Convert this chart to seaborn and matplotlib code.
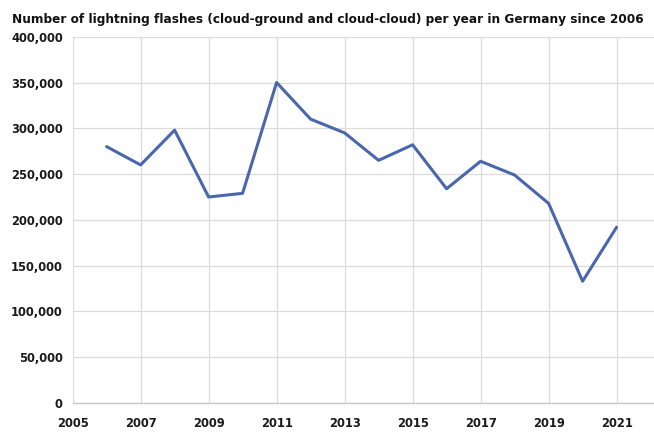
import matplotlib
matplotlib.use("Agg")
import matplotlib.pyplot as plt
import seaborn as sns
import pandas as pd
from matplotlib.ticker import FuncFormatter, MultipleLocator, FixedLocator

years = [2006, 2007, 2008, 2009, 2010, 2011, 2012, 2013, 2014, 2015,
         2016, 2017, 2018, 2019, 2020, 2021]
flashes = [280000, 260000, 298000, 225000, 229000, 350000, 310000, 295000,
           265000, 282000, 234000, 264000, 249000, 218000, 133000, 192000]
x_ticks = [2005, 2007, 2009, 2011, 2013, 2015, 2017, 2019, 2021]
title = "Number of lightning flashes (cloud-ground and cloud-cloud) per year in Germany since 2006"

df = pd.DataFrame({"year": years, "flashes": flashes})

sns.set_theme(style="whitegrid")
plt.rcParams['font.family'] = ['DejaVu Sans']

fig = plt.figure(figsize=(6.54, 4.32), dpi=100)
ax = fig.add_axes([0.111, 0.067, 0.889, 0.848])

sns.lineplot(data=df, x="year", y="flashes", ax=ax, color="#4a67ad", linewidth=2.2)

ax.set_xlim(2005, 2022.1)
ax.set_ylim(0, 400000)
ax.xaxis.set_major_locator(FixedLocator(x_ticks))
ax.yaxis.set_major_locator(MultipleLocator(50000))
ax.yaxis.set_major_formatter(FuncFormatter(lambda v, p: f"{int(v):,}"))
ax.set_xlabel("")
ax.set_ylabel("")
ax.grid(True, color="#dcdcdc", linewidth=0.9)
for s in ["top", "right", "left"]:
    ax.spines[s].set_visible(False)
ax.spines["bottom"].set_color("#c8c8c8")
ax.spines["bottom"].set_linewidth(1.0)
ax.tick_params(axis="both", length=0, labelsize=8.3, colors="#1a1a1a")
ax.tick_params(axis="y", pad=7)
ax.tick_params(axis="x", pad=10)
for lbl in ax.get_xticklabels() + ax.get_yticklabels():
    lbl.set_fontweight("bold")

fig.text(0.018, 0.956, title, fontsize=8.7, fontweight="bold", ha="left", va="center", color="#111111")

fig.savefig("out.png", dpi=100)
